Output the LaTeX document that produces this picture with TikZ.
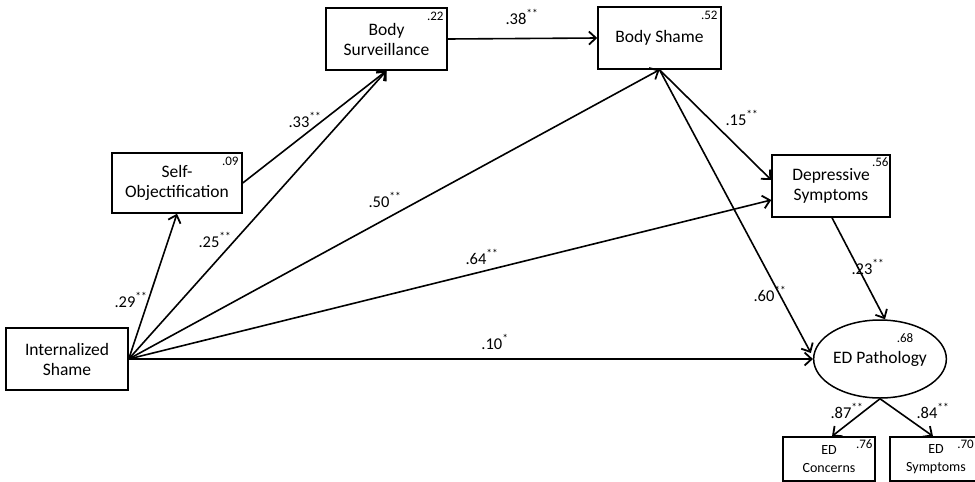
\documentclass[tikz,border=0pt]{standalone}
\usepackage{fontspec}
\setmainfont{Carlito}
\usetikzlibrary{arrows.meta,shapes.geometric,calc}
\tikzset{
  box/.style={draw, line width=1.5pt, align=center, inner sep=0pt, font=\fontsize{17.5}{20}\selectfont},
  smallbox/.style={draw, line width=1.5pt, align=center, inner sep=0pt, font=\fontsize{14}{18}\selectfont},
  rsq/.style={anchor=north east, inner sep=0pt, font=\fontsize{13}{13}\selectfont},
  lbl/.style={inner sep=0pt, font=\fontsize{16.5}{17}\selectfont},
  arr/.style={line width=1.6pt, -{Straight Barb[length=7pt,width=13pt,line width=1.8pt]}},
}
\newcommand{\sig}[1]{#1\textsuperscript{**}}
\begin{document}
\begin{tikzpicture}[x=1pt,y=-1pt]
\useasboundingbox (0,0) rectangle (975,482);
\node[box, minimum width=122pt, minimum height=62pt] (is) at (67,359) {Internalized\\Shame};
\node[box, minimum width=130pt, minimum height=60pt] (so) at (177,183) {Self-\\Objectification};
\node[box, minimum width=121pt, minimum height=62pt] (bsv) at (386.5,39) {Body\\Surveillance};
\node[box, minimum width=123pt, minimum height=62pt] (bsh) at (659.5,38) {Body Shame};
\node[box, minimum width=118pt, minimum height=62pt] (dep) at (831,186) {Depressive\\Symptoms};
\node[ellipse, draw, line width=1.5pt, inner sep=0pt, minimum width=126pt, minimum height=78pt, font=\fontsize{17.5}{20}\selectfont] (ed) at (880,359) {ED Pathology};
\node[smallbox, minimum width=92pt, minimum height=44pt] (edc) at (829,459) {ED\\Concerns};
\node[smallbox, minimum width=92pt, minimum height=44pt] (eds) at (936,459) {ED\\Symptoms};

\node[rsq] (r1) at ($(so.north east)+(-4,5)$) {.09};
\node[rsq] (r2) at ($(bsv.north east)+(-4,5)$) {.22};
\node[rsq] (r3) at ($(bsh.north east)+(-4,5)$) {.52};
\node[rsq] (r4) at ($(dep.north east)+(-2,3)$) {.56};
\node[rsq] (r5) at ($(ed.north east)+(-14,3)$) {.68};
\node[rsq] (r6) at ($(edc.north east)+(-3,3)$) {.76};
\node[rsq] (r7) at (974,440) {.70};

\draw[arr] (is.east) -- (so.south);
\draw[arr] (is.east) -- (bsv.south);
\draw[arr] (so.east) -- (bsv.south);
\draw[arr] (bsv.east) -- (bsh.west);
\draw[arr] (is.east) -- (bsh.south);
\draw[arr] (bsh.south) -- ($(dep.west)+(0,-6)$);
\draw[arr] (is.east) -- ($(dep.west)+(0,14)$);
\draw[arr] (bsh.south) -- ($(ed.west)+(-2,-6)$);
\draw[arr] (is.east) -- (ed.west);
\draw[arr] ($(dep.south)+(1,0)$) -- ($(ed.north)+(5,0)$);
\draw[arr] (ed.south) -- ($(edc.north)+(3,0)$);
\draw[arr] (ed.south) -- ($(eds.north)+(-3,0)$);

\node[lbl] (l1) at (131,300) {\sig{.29}};
\node[lbl] (l2) at (215,240) {\sig{.25}};
\node[lbl] (l3) at (305,120) {\sig{.33}};
\node[lbl] (l4) at (522,17) {\sig{.38}};
\node[lbl] (l5) at (385,200) {\sig{.50}};
\node[lbl] (l6) at (482,257) {\sig{.64}};
\node[lbl] (l7) at (495,342) {.10\textsuperscript{*}};
\node[lbl] (l8) at (742,118) {\sig{.15}};
\node[lbl] (l9) at (770,294) {\sig{.60}};
\node[lbl] (l10) at (868,267) {\sig{.23}};
\node[lbl] (l11) at (847,411) {\sig{.87}};
\node[lbl] (l12) at (933,411) {\sig{.84}};
\end{tikzpicture}
\end{document}
